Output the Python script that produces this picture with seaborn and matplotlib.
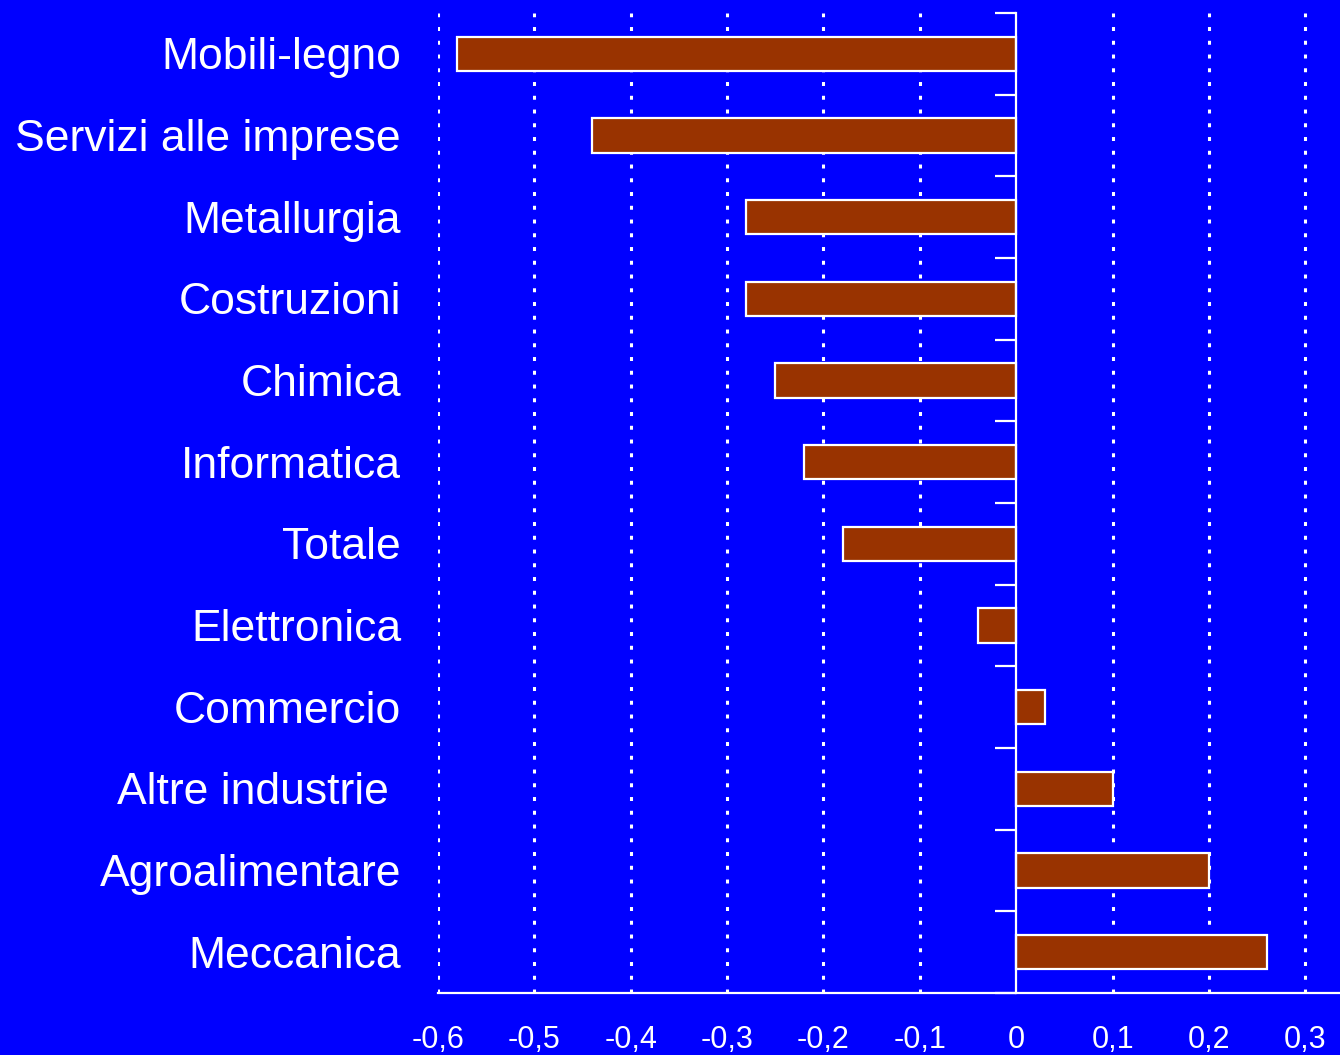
import matplotlib
matplotlib.use("Agg")
import matplotlib.pyplot as plt
import seaborn as sns
from matplotlib.ticker import FixedLocator, FuncFormatter

# Settori e variazione
settori = ["Mobili-legno", "Servizi alle imprese", "Metallurgia", "Costruzioni",
           "Chimica", "Informatica", "Totale", "Elettronica", "Commercio",
           "Altre industrie ", "Agroalimentare", "Meccanica"]
valori = [-0.58, -0.44, -0.28, -0.28, -0.25, -0.22, -0.18, -0.04, 0.03,
          0.10, 0.20, 0.26]
x_ticks = [-0.6, -0.5, -0.4, -0.3, -0.2, -0.1, 0.0, 0.1, 0.2, 0.3]

sns.set_style("white")
plt.rcParams['font.family'] = ['Liberation Sans', 'DejaVu Sans']

blu = "#0000FF"
fig = plt.figure(figsize=(13.4, 10.55), dpi=100, facecolor=blu)
ax = fig.add_axes([438 / 1340, 62 / 1055, 902 / 1340, 980 / 1055])
ax.set_facecolor(blu)

# Gridlines first, bars above
for xv in x_ticks:
    if xv != 0:
        ax.axvline(xv, color="white", lw=2.2, dashes=(1.3, 3.2), zorder=0)

sns.barplot(x=valori, y=settori, color="#993300", edgecolor="white",
            linewidth=1.6, width=0.42, saturation=1, ax=ax, zorder=2)

ax.set_xlim(-0.6, 0.336)
ax.set_ylim(len(settori) - 0.5, -0.5)

# Spines
for s in ["top", "right"]:
    ax.spines[s].set_visible(False)
ax.spines["left"].set_position(("data", 0))
ax.spines["left"].set_color("white")
ax.spines["left"].set_linewidth(1.6)
ax.spines["left"].set_zorder(3)
ax.spines["bottom"].set_color("white")
ax.spines["bottom"].set_linewidth(1.6)

# X ticks
ax.xaxis.set_major_locator(FixedLocator(x_ticks))
ax.xaxis.set_major_formatter(FuncFormatter(
    lambda v, p: "0" if abs(v) < 1e-9 else f"{v:.1f}".replace(".", ",")))
ax.tick_params(axis="x", colors="white", labelsize=22, length=11, width=1.6,
               direction="out", pad=12)

# Y ticks: boundaries between categories, labels drawn as text at the left
ax.set_yticks([i + 0.5 for i in range(-1, len(settori))], minor=True)
ax.tick_params(axis="y", which="minor", length=15, width=1.6, colors="white",
               direction="out", left=True)
ax.tick_params(axis="y", which="major", length=0, labelleft=False)
ax.set_xlabel("")
ax.set_ylabel("")

trans = ax.get_yaxis_transform()
for i, nome in enumerate(settori):
    ax.text(-0.041, i + 0.05, nome, transform=trans, ha="right", va="center",
            fontsize=32, color="white")

fig.savefig("out.png", dpi=100, facecolor=blu)
